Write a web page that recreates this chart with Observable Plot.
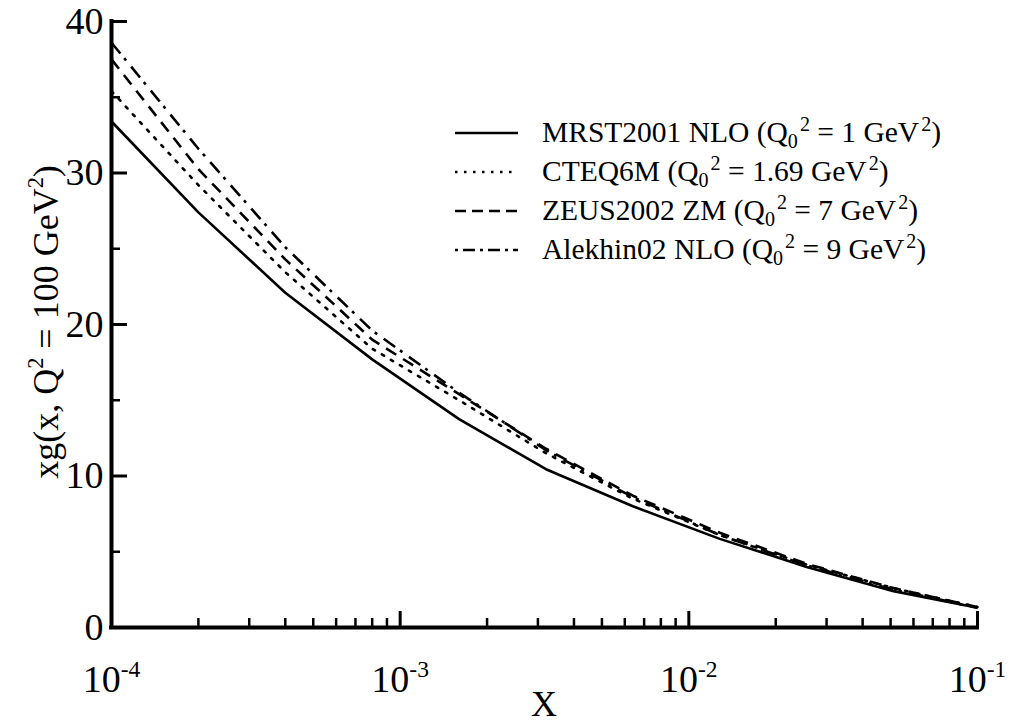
<!DOCTYPE html>
<html><head><meta charset="utf-8">
<script src="https://cdn.jsdelivr.net/npm/d3@7"></script>
<script src="https://cdn.jsdelivr.net/npm/@observablehq/plot@0.6"></script>
<style>
html,body{margin:0;padding:0;background:#fff;overflow:hidden;}
#wrap{position:relative;width:1011px;height:725px;overflow:hidden;}
#wrap > svg{display:block;}
#legend{position:absolute;left:455px;top:113px;font-family:"Liberation Serif",serif;font-size:29.5px;color:#000;}
#legend .row{display:flex;align-items:center;height:39px;white-space:nowrap;}
#legend svg{width:63px;height:10px;margin-right:24px;flex:none;}
#legend sub{font-size:0.68em;vertical-align:-0.32em;line-height:0;}
#legend sup{font-size:0.68em;vertical-align:0.55em;line-height:0;margin-left:0.1em;}
</style></head><body><div id="wrap"></div>
<script>
// ---- data ----
const xValues = [1e-4, 2e-4, 4e-4, 8e-4, 1.6e-3, 3.2e-3, 6.4e-3, 1.28e-2, 2.56e-2, 5.12e-2, 1e-1];
const mrst2001 = [33.4, 27.4, 22.1, 17.7, 13.75, 10.45, 8.0, 5.85, 4.0, 2.4, 1.3];
const cteq6m   = [35.4, 29.2, 23.45, 18.4, 15.0, 11.5, 8.5, 6.1, 4.15, 2.6, 1.35];
const zeus2002 = [37.5, 30.25, 24.3, 19.0, 15.4, 11.8, 8.7, 6.25, 4.2, 2.6, 1.35];
const alekhin02 = [38.6, 31.6, 25.1, 19.6, 15.5, 11.7, 8.6, 6.1, 4.1, 2.5, 1.3];
const seriesNames = ["MRST2001 NLO", "CTEQ6M", "ZEUS2002 ZM", "Alekhin02 NLO"];
const q0Labels = ["1", "1.69", "7", "9"];
const xMajorTicks = [1e-4, 1e-3, 1e-2, 1e-1];
const xMinorTicks = [2,3,4,5,6,7,8,9].flatMap(m => [1e-4, 1e-3, 1e-2].map(d => m * d));
const yMajorTicks = [0, 10, 20, 30, 40];
const yMinorTicks = [5, 15, 25, 35];

// ---- styles ----
const curveDash = [null, "2.5,8", "12,8", "14,6,3,8"];
const legendDash = [null, "2.5,6.5", "11,6", "3,5,12,5"];

const W = 1011, H = 725, mL = 111, mR = 34, mT = 21, mB = 98;
const plotW = W - mL - mR, plotH = H - mT - mB;
const FS = 38;
const FONT = '"Liberation Serif", serif';

const allSeries = [mrst2001, cteq6m, zeus2002, alekhin02];
const lineMarks = allSeries.map((vals, i) => {
  const data = xValues.map((x, j) => ({x, y: vals[j]}));
  const opts = {x: "x", y: "y", stroke: "black", strokeWidth: 2.6, strokeLinecap: i === 1 ? "round" : "butt"};
  if (curveDash[i]) opts.strokeDasharray = curveDash[i];
  return Plot.line(data, opts);
});

const chart = Plot.plot({
  width: W, height: H,
  marginLeft: mL, marginRight: mR, marginTop: mT, marginBottom: mB,
  style: {fontFamily: FONT, background: "white", color: "black", overflow: "visible"},
  x: {type: "log", domain: [1e-4, 1e-1]},
  y: {domain: [0, 40]},
  marks: [
    Plot.axisX(xMajorTicks, {tickSize: 0, tickPadding: 38, fontSize: FS, fontFamily: FONT, label: null,
      tickFormat: d => "10^" + Math.round(Math.log10(d))}),
    Plot.axisY(yMajorTicks, {tickSize: 0, tickPadding: 8, fontSize: FS, fontFamily: FONT, label: null}),
    ...lineMarks,
    Plot.ruleX(xMinorTicks, {stroke: "black", strokeWidth: 2.5, insetTop: plotH - 9}),
    Plot.ruleX(xMajorTicks, {stroke: "black", strokeWidth: 3, insetTop: plotH - 16}),
    Plot.ruleY(yMinorTicks, {stroke: "black", strokeWidth: 2.5, insetRight: plotW - 9}),
    Plot.ruleY(yMajorTicks, {stroke: "black", strokeWidth: 3, insetRight: plotW - 16}),
    Plot.ruleY([0], {stroke: "black", strokeWidth: 4, insetLeft: -2, insetRight: -2}),
    Plot.ruleX([1e-4], {stroke: "black", strokeWidth: 4, insetTop: -2, insetBottom: -2})
  ]
});

function richText(sel, parts, fs) {
  sel.text(null);
  let shift = 0;
  for (const [t, kind] of parts) {
    const target = kind === "sup" ? -0.42 * fs : kind === "sub" ? 0.22 * fs : 0;
    sel.append("tspan").attr("dy", target - shift).style("font-size", (kind ? 0.62 * fs : fs) + "px").text(t);
    shift = target;
  }
}

const svg = d3.select(chart);
svg.selectAll('g[aria-label="x-axis tick label"] text').each(function() {
  const [b, e] = this.textContent.split("^");
  richText(d3.select(this), [[b], [e, "sup"]], FS);
});

// axis titles
const YFS = 36;
const ylab = svg.append("text")
  .attr("transform", `translate(58,${(mT + H - mB) / 2 - 2}) rotate(-90)`)
  .attr("text-anchor", "middle")
  .style("font-family", FONT).style("font-size", YFS + "px").attr("fill", "black");
richText(ylab, [["xg(x, Q"], ["2", "sup"], [" = 100 GeV"], ["2", "sup"], [")"]], YFS);
svg.append("text")
  .attr("x", mL + plotW / 2).attr("y", H - 9)
  .attr("text-anchor", "middle").style("font-family", FONT).style("font-size", "36px")
  .attr("fill", "black").text("X");

const wrap = document.getElementById("wrap");
wrap.appendChild(chart);

// legend
const legend = d3.select(wrap).append("div").attr("id", "legend");
seriesNames.forEach((name, i) => {
  const row = legend.append("div").attr("class", "row");
  const s = row.append("svg").attr("viewBox", "0 0 63 10");
  const ln = s.append("line").attr("x1", 0).attr("x2", 63).attr("y1", 5).attr("y2", 5)
    .attr("stroke", "black").attr("stroke-width", i === 0 ? 2.6 : 2.4);
  if (legendDash[i]) ln.attr("stroke-dasharray", legendDash[i]);
  row.append("span").html(`${name} (Q<sub>0</sub><sup>2</sup> = ${q0Labels[i]} GeV<sup>2</sup>)`);
});
</script></body></html>
